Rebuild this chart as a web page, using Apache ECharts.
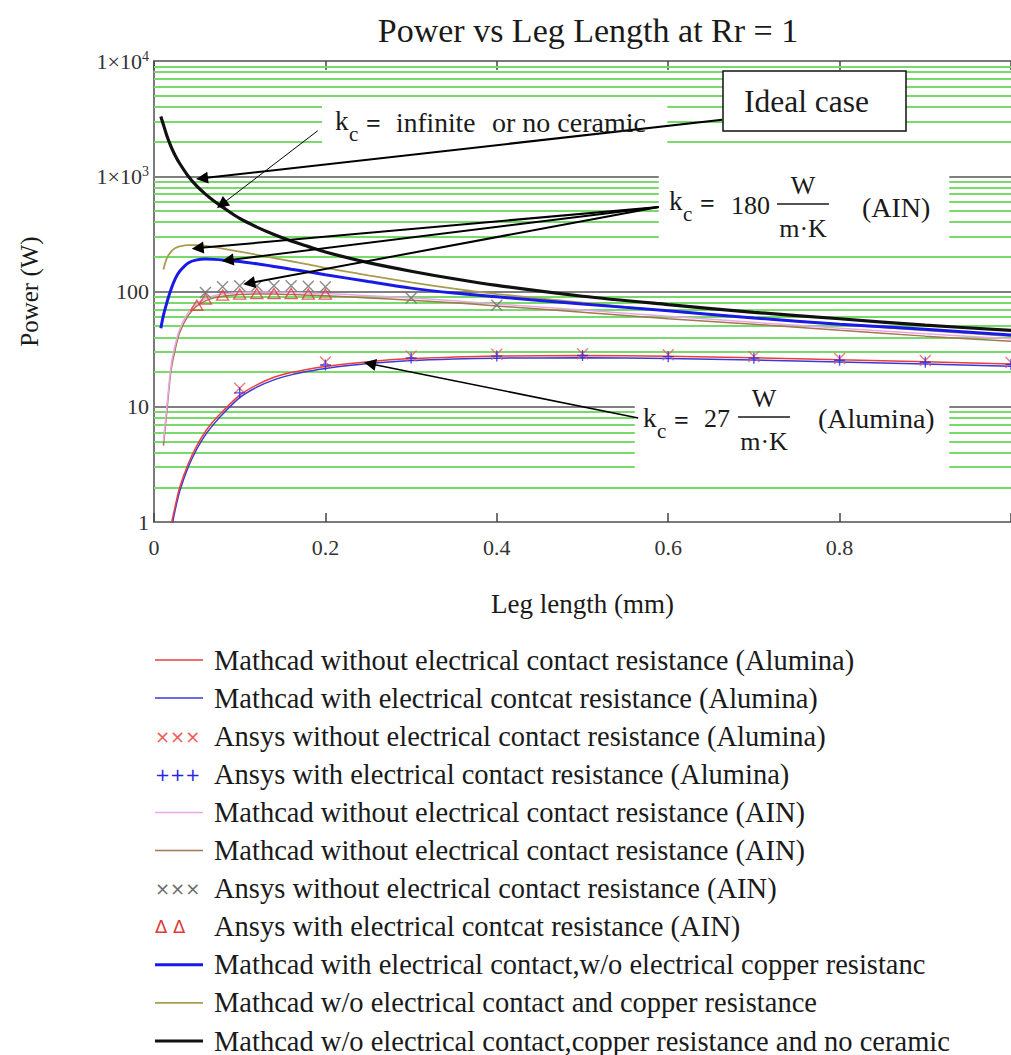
<!DOCTYPE html>
<html><head><meta charset="utf-8">
<script src="https://cdn.jsdelivr.net/npm/echarts@6/dist/echarts.min.js"></script>
<style>html,body{margin:0;padding:0;background:#fff}#c{width:1011px;height:1055px}</style>
</head><body><div id="c"></div>
<script>
// ---------- data ----------
const X = [0.008, 0.011, 0.015, 0.02, 0.025, 0.03, 0.04, 0.05, 0.06, 0.07, 0.08, 0.1, 0.12, 0.14, 0.16, 0.18, 0.2, 0.25, 0.3, 0.35, 0.4, 0.5, 0.6, 0.7, 0.8, 0.9, 1.0];
const blackNoCeramic = [3300, 2800, 2250, 1800, 1500, 1290, 1000, 820, 700, 610, 540, 430, 362, 312, 274, 245, 220, 178, 150, 129, 113, 91, 77, 66, 58, 51, 46];
const blueThickAIN  = [48, 62, 80, 105, 130, 150, 177, 188, 191, 190, 188, 182, 174, 165, 156, 148, 140, 122, 107, 97, 90, 78, 68, 59, 52, 47, 42];
const oliveAIN      = [null, 155, 195, 222, 238, 246, 253, 253, 249, 243, 236, 222, 208, 195, 183, 172, 160, 138, 120, 106, 95, 80, 68, 59, 52, 46, 41];
const pinkAIN       = [null, 5, 10, 23, 35, 47, 66, 79, 87, 92, 95, 98, 99, 99, 98, 97, 96, 92, 88, 83, 78, 69, 61, 54, 48, 43, 39];
const brownAIN      = [null, 4.6, 9.2, 21, 32, 44, 62, 75, 83, 88, 91, 94, 95, 95, 94, 93, 92, 88, 84, 80, 75, 66, 58, 52, 46, 41, 37];
const redAlumina    = [null, null, null, 0.95, 1.4, 2.0, 3.2, 4.6, 6.1, 7.6, 9.1, 12.6, 15.5, 18.0, 19.8, 21.2, 22.4, 24.6, 26.2, 27.0, 27.5, 27.8, 27.4, 26.6, 25.6, 24.6, 23.5];
const blueAlumina   = [null, null, null, 0.85, 1.3, 1.85, 3.0, 4.3, 5.7, 7.1, 8.6, 12.0, 14.8, 17.1, 18.9, 20.3, 21.5, 23.7, 25.2, 26.0, 26.4, 26.6, 26.2, 25.4, 24.5, 23.5, 22.5];

const ansysAlX        = [0.1, 0.2, 0.3, 0.4, 0.5, 0.6, 0.7, 0.8, 0.9, 1.0];
const ansysAlNoCR     = [14.5, 24.5, 27.5, 28.5, 28.8, 28.2, 27.3, 26.2, 25.2, 24.2];
const ansysAlWithCR   = [13.2, 23.0, 26.5, 27.5, 27.8, 27.2, 26.4, 25.3, 24.3, 23.3];
const ansysAinNoX     = [0.06, 0.08, 0.1, 0.12, 0.14, 0.16, 0.18, 0.2, 0.3, 0.4];
const ansysAinNoCR    = [98, 110, 112, 112, 112, 112, 111, 110, 88, 76];
const ansysAinWithX   = [0.05, 0.06, 0.08, 0.1, 0.12, 0.14, 0.16, 0.18, 0.2];
const ansysAinWithCR  = [76, 86, 93, 95, 96, 96, 96, 95, 95];

const seriesNames = [
  'Mathcad without electrical contact resistance (Alumina)',
  'Mathcad with electrical contcat resistance (Alumina)',
  'Ansys without electrical contact resistance (Alumina)',
  'Ansys with electrical contact resistance (Alumina)',
  'Mathcad without electrical contact resistance (AIN)',
  'Mathcad without electrical contact resistance (AIN)',
  'Ansys without electrical contact resistance (AIN)',
  'Ansys with electrical contcat resistance (AIN)',
  'Mathcad with electrical contact,w/o electrical copper resistanc',
  'Mathcad w/o electrical contact and copper resistance',
  'Mathcad w/o electrical contact,copper resistance and no ceramic'
];
const xTickLabels = ['0', '0.2', '0.4', '0.6', '0.8'];
const yTickLabels = {1: '1', 10: '10', 100: '100', 1000: '1×10{sup|3}', 10000: '1×10{sup|4}'};

// annotation arrows (data coordinates: [mm, W])
const arrowFrom = [[0.663, 3090], [0.191, 2480], [0.589, 542], [0.589, 542], [0.589, 542], [0.565, 8.0]];
const arrowTo   = [[0.056, 960], [0.079, 570], [0.051, 238], [0.086, 187], [0.111, 118], [0.252, 23.6]];
const arrowW    = [2, 1, 2, 2, 2, 1.5];

// ---------- layout / style ----------
const SERIF = "'Liberation Serif', 'Times New Roman', serif";
const SANS = "'DejaVu Sans', sans-serif";
const COL = {
  red: '#ea3f3b', blueThin: '#3a3ad8', redX: '#f05a5a', bluePlus: '#2626e6', pink: '#eaa6e6',
  brown: '#a4784e', grayX: '#6e6e6e', redTri: '#e23a3a', blueThick: '#1a1ae8', olive: '#a99c50', black: '#111111'
};
// white areas behind annotation text (gaps in grid lines): x range in mm, value range in W
const gapBoxes = [
  {x0: 0.196, x1: 0.599, vLo: 1256, vHi: 4610},
  {x0: 0.589, x1: 0.928, vLo: 239, vHi: 1138},
  {x0: 0.561, x1: 0.928, vLo: 2.4, vHi: 17}
];
const minorVals = [];
for (let k = 0; k <= 3; k++) for (let m = 2; m <= 9; m++) minorVals.push(m * Math.pow(10, k));
const majorVals = [10, 100, 1000];

function segs(vals) {
  const out = [];
  vals.forEach(v => {
    let parts = [[0, 1]];
    gapBoxes.forEach(b => {
      if (v > b.vLo && v < b.vHi) {
        parts = parts.flatMap(([a, c]) => {
          const r = [];
          if (b.x0 > a) r.push([a, Math.min(c, b.x0)]);
          if (b.x1 < c) r.push([Math.max(a, b.x1), c]);
          return r;
        });
      }
    });
    parts.forEach(([a, c]) => out.push({coords: [[a, v], [c, v]]}));
  });
  return out;
}
function pairs(xs, ys) { return xs.map((x, i) => ys[i] == null ? null : [x, ys[i]]).filter(p => p); }

function lineSeries(idx, ys, color, width, z) {
  return {type: 'line', name: seriesNames[idx], data: pairs(X, ys), showSymbol: false, symbol: 'none',
    smooth: 0.3, color: color, lineStyle: {color: color, width: width}, z: z, animation: false, silent: true};
}
const P_X = 'path://M0,0L10,10M10,0L0,10';
const P_PLUS = 'path://M5,0L5,10M0,5L10,5';
const P_TRI = 'path://M5,0L10,9L0,9Z';
function markerSeries(idx, xs, ys, path, color, size, z) {
  return {type: 'scatter', name: seriesNames[idx], data: pairs(xs, ys), symbol: path, symbolSize: size,
    itemStyle: {color: 'rgba(0,0,0,0)', borderColor: color, borderWidth: 1.4}, z: z, animation: false, silent: true};
}

const series = [
  {type: 'lines', coordinateSystem: 'cartesian2d', polyline: false, silent: true, z: 1, animation: false,
   lineStyle: {color: '#78da6a', width: 2, opacity: 1}, data: segs(minorVals)},
  {type: 'lines', coordinateSystem: 'cartesian2d', polyline: false, silent: true, z: 1, animation: false,
   lineStyle: {color: '#808080', width: 2, opacity: 1}, data: segs(majorVals)},
  lineSeries(1, blueAlumina, COL.blueThin, 1.5, 3),
  lineSeries(0, redAlumina, COL.red, 1.5, 3),
  lineSeries(5, brownAIN, COL.brown, 1.5, 3),
  lineSeries(4, pinkAIN, COL.pink, 1.5, 3),
  lineSeries(9, oliveAIN, COL.olive, 1.8, 3),
  lineSeries(8, blueThickAIN, COL.blueThick, 3, 3),
  lineSeries(10, blackNoCeramic, COL.black, 3.2, 3),
  markerSeries(2, ansysAlX, ansysAlNoCR, P_X, COL.redX, 11, 4),
  markerSeries(3, ansysAlX, ansysAlWithCR, P_PLUS, COL.bluePlus, 11, 4),
  markerSeries(7, ansysAinWithX, ansysAinWithCR, P_TRI, COL.redTri, [12, 10], 4),
  markerSeries(6, ansysAinNoX, ansysAinNoCR, P_X, COL.grayX, 11, 4),
  {type: 'lines', coordinateSystem: 'cartesian2d', polyline: false, silent: true, z: 6, animation: false,
   symbol: ['none', 'triangle'], symbolSize: 12,
   data: arrowFrom.map((f, i) => ({coords: [f, arrowTo[i]], lineStyle: {width: arrowW[i]}})),
   lineStyle: {color: '#000', opacity: 1}}
];

// ---------- graphic annotations & legend ----------
function T(text, x, y, size, extra) {
  const st = Object.assign({text: text, font: size + 'px ' + SERIF, fill: '#1a1a1a',
    align: 'left', verticalAlign: 'middle', textAlign: 'left', textVerticalAlign: 'middle'}, extra || {});
  return {type: 'text', x: x, y: y, z: 60, silent: true, style: st};
}
function L(x1, y1, x2, y2, color, w) {
  return {type: 'line', z: 60, silent: true, shape: {x1: x1, y1: y1, x2: x2, y2: y2}, style: {stroke: color, lineWidth: w}};
}
function kc(x, y) {
  return [T('k', x, y, 27), T('c', x + 14, y + 13, 21), T('=', x + 31, y + 2, 26, {font: 'bold 26px ' + SERIF})];
}
function frac(cx, y, half) {
  return [T('W', cx, y - 19, 26, {align: 'center', textAlign: 'center'}), L(cx - half, y, cx + half, y, '#1a1a1a', 1.5),
          T('m·K', cx, y + 24, 26, {align: 'center', textAlign: 'center'})];
}
const annotations = [].concat(
  kc(335, 121), [T('infinite', 396, 122, 27.5), T('or no ceramic', 492, 122, 28)],
  [{type: 'rect', z: 58, silent: true, shape: {x: 723, y: 71, width: 183, height: 60},
    style: {fill: '#ffffff', stroke: '#111', lineWidth: 1.5}}, T('Ideal case', 744, 101, 31.5)],
  kc(669, 201), [T('180', 731, 205, 26)], frac(803, 204, 26), [T('(AIN)', 862, 207, 28)],
  kc(643, 418), [T('27', 704, 418, 26)], frac(764, 417, 26), [T('(Alumina)', 818, 418, 28)]
);
const legendKind = ['line', 'line', 'glyph', 'glyph', 'line', 'line', 'glyph', 'glyph', 'line', 'line', 'line'];
const legendColor = [COL.red, COL.blueThin, COL.redX, COL.bluePlus, COL.pink, COL.brown, COL.grayX, COL.redTri, COL.blueThick, COL.olive, COL.black];
const legendWidth = [1.5, 1.5, 0, 0, 1.5, 1.5, 0, 0, 3, 1.8, 3];
const legendGlyph = ['', '', '×××', '+++', '', '', '×××', 'Δ Δ', '', '', ''];
const legendEls = [];
seriesNames.forEach((n, i) => {
  const y = 660 + 38.1 * i;
  if (legendKind[i] === 'line') legendEls.push(L(155, y, 203, y, legendColor[i], legendWidth[i]));
  else legendEls.push(T(legendGlyph[i], 155, y, 18, {font: '18px ' + SANS, fill: legendColor[i]}));
  legendEls.push(T(n, 214, y, 28.5));
});

const chart = echarts.init(document.getElementById('c'), null, {renderer: 'svg'});
chart.setOption({
  animation: false,
  backgroundColor: '#ffffff',
  title: {text: 'Power vs Leg Length at Rr = 1', left: 583, top: 8, textAlign: 'center',
    textStyle: {fontFamily: SERIF, fontSize: 34, fontWeight: 'normal', color: '#1a1a1a'}},
  grid: {left: 154, right: 0, top: 61, bottom: 533, containLabel: false, outerBoundsMode: 'none'},
  xAxis: [
    {type: 'value', min: 0, max: 1, interval: 0.2, position: 'bottom', gridIndex: 0,
     name: 'Leg length (mm)', nameLocation: 'middle', nameGap: 68,
     nameTextStyle: {fontFamily: SERIF, fontSize: 27, color: '#1a1a1a'},
     axisLine: {onZero: false, lineStyle: {color: '#7a7a7a', width: 2}},
     axisTick: {inside: true, length: 9, lineStyle: {color: '#444', width: 1.5}},
     splitLine: {show: false},
     axisLabel: {fontFamily: SERIF, fontSize: 22, color: '#333', margin: 14,
       formatter: (v) => { const i = Math.round(v / 0.2); return i < xTickLabels.length ? xTickLabels[i] : ''; }}},
    {type: 'value', min: 0, max: 1, interval: 0.2, position: 'top', gridIndex: 0,
     axisLine: {onZero: false, lineStyle: {color: '#7a7a7a', width: 2}},
     axisTick: {inside: true, length: 9, lineStyle: {color: '#444', width: 1.5}},
     axisLabel: {show: false}, splitLine: {show: false}}
  ],
  yAxis: {type: 'log', logBase: 10, min: 1, max: 10000,
    name: 'Power (W)', nameLocation: 'middle', nameGap: 112, nameRotate: 90,
    nameTextStyle: {fontFamily: SERIF, fontSize: 25, color: '#1a1a1a'},
    axisLine: {show: true, lineStyle: {color: '#7a7a7a', width: 2}},
    axisTick: {show: false}, splitLine: {show: false},
    axisLabel: {fontFamily: SERIF, fontSize: 22, color: '#333', margin: 5,
      formatter: (v) => yTickLabels[Math.round(v)] || '',
      rich: {sup: {fontSize: 14, fontFamily: SERIF, color: '#333', verticalAlign: 'top', padding: [0, 0, 10, 0]}}}},
  series: series,
  graphic: {elements: annotations.concat(legendEls)}
});
</script>
</body></html>
